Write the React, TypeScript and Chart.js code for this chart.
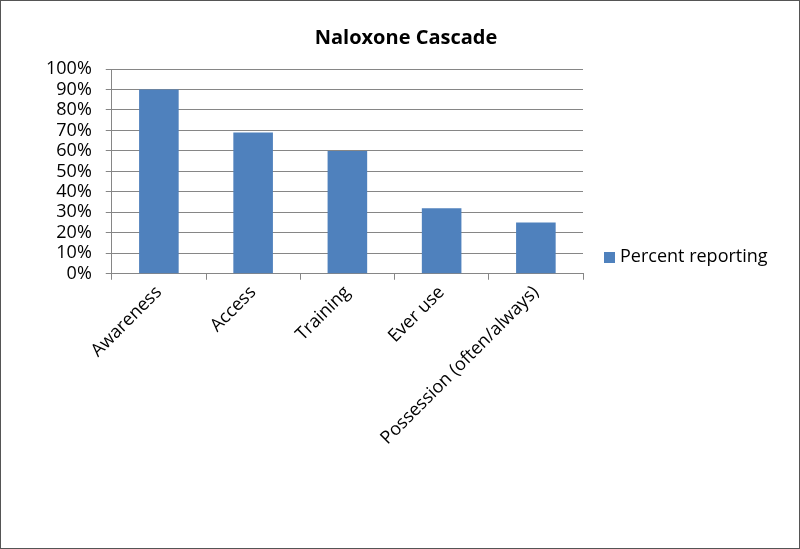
import React, { useEffect, useRef } from "react";
import { Chart, registerables } from "chart.js";

Chart.register(...registerables);

const TITLE = "Naloxone Cascade";
const SERIES_LABEL = "Percent reporting";
const CATEGORIES = ["Awareness", "Access", "Training", "Ever use", "Possession (often/always)"];
const VALUES = [90, 69, 60, 32, 25];
const BAR_COLOR = "#4F81BD";
const FONT = "'Open Sans', 'Noto Sans', sans-serif";

const extrasPlugin = {
  id: "extras",
  afterDraw(chart: any) {
    const ctx = chart.ctx;
    ctx.save();
    ctx.fillStyle = "#000";
    ctx.font = `bold 20px ${FONT}`;
    ctx.textAlign = "center";
    ctx.textBaseline = "middle";
    ctx.fillText(TITLE, 405, 37);
    const ds = chart.data.datasets[0];
    ctx.fillStyle = ds.backgroundColor;
    ctx.fillRect(603, 251, 11, 11);
    ctx.fillStyle = "#000";
    ctx.font = `18px ${FONT}`;
    ctx.textAlign = "left";
    ctx.fillText(ds.label, 619, 256);
    ctx.restore();
  },
};

export default function App() {
  const ref = useRef<HTMLCanvasElement>(null);
  useEffect(() => {
    document.body.style.margin = "0";
    const chart = new Chart(ref.current!, {
      type: "bar",
      data: {
        labels: CATEGORIES,
        datasets: [
          {
            label: SERIES_LABEL,
            data: VALUES,
            backgroundColor: BAR_COLOR,
            barPercentage: 0.42,
            categoryPercentage: 1,
          },
        ],
      },
      options: {
        animation: false,
        responsive: true,
        maintainAspectRatio: false,
        layout: { padding: { left: 31, right: 216, top: 68, bottom: 97 } },
        plugins: {
          legend: { display: false },
          title: { display: false },
          tooltip: { enabled: false },
        },
        scales: {
          x: {
            offset: true,
            grid: {
              offset: true,
              drawOnChartArea: false,
              drawTicks: true,
              tickLength: 6,
              color: "#868686",
            },
            border: { color: "#868686", width: 1 },
            ticks: {
              autoSkip: false,
              maxRotation: 45,
              minRotation: 45,
              color: "#000",
              font: { family: FONT, size: 18 },
              padding: 2,
            },
          },
          y: {
            min: 0,
            max: 100,
            grid: { color: "#868686", tickLength: 6 },
            border: { color: "#868686", width: 1 },
            ticks: {
              stepSize: 10,
              autoSkip: false,
              color: "#000",
              font: { family: FONT, size: 18 },
              padding: 14,
              callback: (v: any) => `${v}%`,
            },
          },
        },
      },
      plugins: [extrasPlugin],
    });
    return () => chart.destroy();
  }, []);
  return (
    <div
      style={{
        width: 800,
        height: 549,
        boxSizing: "border-box",
        border: "1px solid #555",
        background: "#fff",
      }}
    >
      <div style={{ position: "relative", width: 798, height: 547 }}>
        <canvas ref={ref} />
      </div>
    </div>
  );
}
